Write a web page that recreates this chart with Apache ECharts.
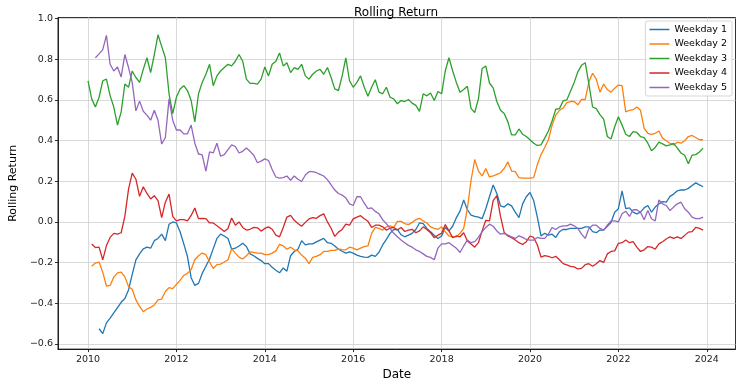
<!DOCTYPE html>
<html>
<head>
<meta charset="utf-8">
<script src="https://cdn.jsdelivr.net/npm/echarts@6/dist/echarts.min.js"></script>
<style>
  html, body { margin: 0; padding: 0; background: #fff; }
  #chart { width: 740px; height: 386px; }
</style>
</head>
<body>
<div id="chart"></div>
<script>
// ---- Data (monthly samples) ----
const startYear = 2010;
const monthCount = 168; // Jan 2010 .. Dec 2023
const dates = [];
for (let i = 0; i < monthCount; i++) dates.push(startYear + i / 12);

const seriesNames = ['Weekday 1', 'Weekday 2', 'Weekday 3', 'Weekday 4', 'Weekday 5'];

const weekday1 = [null, null, null,
  -0.525, -0.549, -0.496, -0.473, -0.447, -0.421, -0.395,
  -0.376, -0.334, -0.258, -0.186, -0.157, -0.132, -0.124, -0.129, -0.092, -0.081,
  -0.06, -0.092, -0.011, 0.0, -0.005, -0.048, -0.108, -0.17, -0.274, -0.312,
  -0.302, -0.253, -0.218, -0.182, -0.131, -0.081, -0.06, -0.069, -0.081, -0.134,
  -0.129, -0.118, -0.105, -0.121, -0.157, -0.166, -0.179, -0.19, -0.205, -0.205,
  -0.223, -0.237, -0.25, -0.226, -0.242, -0.166, -0.145, -0.134, -0.092, -0.113,
  -0.108, -0.108, -0.098, -0.089, -0.081, -0.102, -0.105, -0.118, -0.134, -0.144,
  -0.153, -0.147, -0.153, -0.163, -0.169, -0.173, -0.174, -0.163, -0.169, -0.149,
  -0.113, -0.086, -0.056, -0.037, -0.037, -0.063, -0.073, -0.065, -0.056, -0.037,
  -0.005, -0.008, -0.032, -0.048, -0.065, -0.081, -0.069, -0.027, -0.044, -0.021,
  0.021, 0.053, 0.108, 0.06, 0.034, 0.027, 0.024, 0.016, 0.065, 0.124,
  0.182, 0.14, 0.079, 0.073, 0.089, 0.079, 0.048, 0.021, 0.089, 0.124,
  0.145, 0.105, 0.024, -0.069, -0.056, -0.065, -0.06, -0.076, -0.048, -0.036,
  -0.037, -0.032, -0.032, -0.032, -0.032, -0.024, -0.024, -0.048, -0.053, -0.04,
  -0.04, -0.021, -0.003, 0.048, 0.065, 0.153, 0.065, 0.069, 0.048, 0.04,
  0.048, 0.069, 0.081, 0.048, 0.073, 0.089, 0.1, 0.097, 0.126, 0.137,
  0.153, 0.158, 0.157, 0.165, 0.179, 0.192, 0.182, 0.173];

const weekday2 = [null,
  -0.218, -0.202, -0.197, -0.247, -0.315, -0.312, -0.271, -0.25, -0.247,
  -0.27, -0.318, -0.331, -0.383, -0.415, -0.441, -0.428, -0.42, -0.408, -0.383,
  -0.379, -0.342, -0.323, -0.328, -0.307, -0.287, -0.263, -0.253, -0.234, -0.186,
  -0.166, -0.153, -0.161, -0.197, -0.229, -0.21, -0.207, -0.197, -0.186, -0.132,
  -0.153, -0.173, -0.182, -0.166, -0.147, -0.15, -0.153, -0.153, -0.161, -0.161,
  -0.153, -0.142, -0.11, -0.118, -0.134, -0.124, -0.137, -0.142, -0.163, -0.178,
  -0.205, -0.174, -0.169, -0.161, -0.145, -0.145, -0.14, -0.14, -0.132, -0.136,
  -0.137, -0.124, -0.129, -0.137, -0.129, -0.121, -0.118, -0.056, -0.027, -0.032,
  -0.04, -0.024, -0.019, -0.027, 0.003, 0.003, -0.008, -0.013, -0.002, 0.011,
  0.018, 0.005, -0.005, -0.024, -0.032, -0.037, -0.024, -0.048, -0.069, -0.073,
  -0.073, -0.056, -0.032, 0.065, 0.205, 0.307, 0.25, 0.226, 0.263, 0.221,
  0.226, 0.234, 0.242, 0.263, 0.295, 0.25, 0.247, 0.218, 0.215, 0.215,
  0.215, 0.218, 0.282, 0.331, 0.366, 0.404, 0.476, 0.525, 0.549, 0.56,
  0.586, 0.592, 0.592, 0.576, 0.602, 0.602, 0.689, 0.731, 0.702, 0.638,
  0.678, 0.651, 0.638, 0.657, 0.673, 0.67, 0.541, 0.549, 0.552, 0.565,
  0.549, 0.46, 0.436, 0.431, 0.436, 0.447, 0.412, 0.399, 0.387, 0.379,
  0.392, 0.387, 0.399, 0.42, 0.425, 0.415, 0.404, 0.404];

const weekday3 = [
  0.694, 0.605, 0.565, 0.613, 0.694, 0.702, 0.621, 0.565, 0.476, 0.541,
  0.678, 0.662, 0.742, 0.71, 0.686, 0.75, 0.807, 0.734, 0.823, 0.92,
  0.863, 0.807, 0.63, 0.533, 0.613, 0.654, 0.67, 0.646, 0.597, 0.492,
  0.63, 0.686, 0.726, 0.775, 0.67, 0.718, 0.742, 0.759, 0.775, 0.767,
  0.79, 0.823, 0.79, 0.702, 0.681, 0.681, 0.678, 0.702, 0.762, 0.718,
  0.775, 0.79, 0.831, 0.767, 0.783, 0.734, 0.759, 0.75, 0.775, 0.718,
  0.702, 0.726, 0.742, 0.75, 0.726, 0.759, 0.71, 0.654, 0.646, 0.718,
  0.807, 0.694, 0.662, 0.686, 0.718, 0.662, 0.618, 0.662, 0.699, 0.638,
  0.63, 0.662, 0.613, 0.605, 0.581, 0.597, 0.592, 0.602, 0.584, 0.573,
  0.544, 0.63, 0.62, 0.634, 0.597, 0.641, 0.63, 0.743, 0.807, 0.743,
  0.686, 0.638, 0.651, 0.667, 0.557, 0.538, 0.605, 0.754, 0.767, 0.683,
  0.659, 0.592, 0.549, 0.533, 0.492, 0.428, 0.428, 0.457, 0.431, 0.42,
  0.404, 0.387, 0.376, 0.379, 0.412, 0.447, 0.496, 0.554, 0.557, 0.595,
  0.6, 0.642, 0.686, 0.738, 0.77, 0.783, 0.678, 0.565, 0.557, 0.528,
  0.505, 0.42, 0.408, 0.468, 0.517, 0.476, 0.431, 0.42, 0.444, 0.44,
  0.42, 0.415, 0.387, 0.35, 0.366, 0.392, 0.384, 0.374, 0.379, 0.386,
  0.363, 0.339, 0.328, 0.286, 0.328, 0.331, 0.344, 0.363];

const weekday4 = [null,
  -0.108, -0.126, -0.124, -0.186, -0.116, -0.076, -0.056, -0.06, -0.053,
  0.027, 0.161, 0.24, 0.21, 0.126, 0.173, 0.14, 0.113, 0.129, 0.105,
  0.021, 0.097, 0.137, 0.027, 0.005, 0.011, 0.011, 0.005, 0.032, 0.069,
  0.016, 0.018, 0.016, -0.005, -0.005, -0.019, -0.032, -0.047, -0.032, 0.019,
  -0.016, 0.0, -0.027, -0.04, -0.036, -0.027, -0.029, -0.045, -0.032, -0.024,
  -0.036, -0.065, -0.073, -0.027, 0.024, 0.032, 0.008, -0.008, -0.021, -0.002,
  0.015, 0.021, 0.018, 0.031, 0.04, 0.0, -0.031, -0.071, -0.05, -0.037,
  -0.011, -0.016, 0.015, 0.024, 0.031, 0.016, 0.003, -0.027, -0.016, -0.016,
  -0.024, -0.04, -0.031, -0.027, -0.04, -0.027, -0.047, -0.04, -0.036, -0.053,
  -0.044, -0.024, -0.037, -0.053, -0.077, -0.065, -0.056, -0.013, -0.044, -0.077,
  -0.069, -0.073, -0.053, -0.094, -0.108, -0.124, -0.102, -0.044, 0.008, 0.005,
  0.105, 0.129, 0.027, -0.052, -0.069, -0.077, -0.089, -0.102, -0.111, -0.097,
  -0.069, -0.076, -0.113, -0.173, -0.166, -0.169, -0.176, -0.169, -0.186, -0.205,
  -0.211, -0.218, -0.221, -0.231, -0.228, -0.21, -0.205, -0.218, -0.205, -0.19,
  -0.199, -0.157, -0.145, -0.142, -0.105, -0.102, -0.089, -0.102, -0.097, -0.124,
  -0.145, -0.137, -0.121, -0.124, -0.134, -0.108, -0.097, -0.084, -0.073, -0.081,
  -0.073, -0.081, -0.066, -0.05, -0.048, -0.027, -0.032, -0.04];

const weekday5 = [null, null,
  0.807, 0.826, 0.847, 0.917, 0.775, 0.742, 0.762, 0.713,
  0.823, 0.759, 0.686, 0.546, 0.594, 0.544, 0.525, 0.5, 0.549, 0.5,
  0.383, 0.415, 0.605, 0.5, 0.452, 0.452, 0.433, 0.433, 0.476, 0.387,
  0.334, 0.33, 0.25, 0.344, 0.339, 0.387, 0.323, 0.331, 0.355, 0.379,
  0.371, 0.339, 0.347, 0.363, 0.347, 0.328, 0.291, 0.299, 0.31, 0.302,
  0.258, 0.221, 0.215, 0.218, 0.226, 0.205, 0.226, 0.21, 0.199, 0.231,
  0.247, 0.247, 0.242, 0.234, 0.226, 0.208, 0.182, 0.157, 0.14, 0.132,
  0.118, 0.089, 0.081, 0.124, 0.124, 0.092, 0.065, 0.069, 0.052, 0.04,
  0.011, -0.008, -0.032, -0.056, -0.073, -0.089, -0.102, -0.115, -0.124, -0.137,
  -0.145, -0.157, -0.169, -0.174, -0.186, -0.129, -0.108, -0.108, -0.102, -0.116,
  -0.129, -0.15, -0.118, -0.089, -0.102, -0.097, -0.076, -0.048, -0.027, -0.011,
  -0.021, -0.044, -0.06, -0.056, -0.065, -0.073, -0.081, -0.068, -0.076, -0.086,
  -0.089, -0.089, -0.076, -0.081, -0.081, -0.06, -0.027, -0.037, -0.024, -0.019,
  -0.019, -0.011, -0.019, -0.032, -0.06, -0.081, -0.032, -0.016, -0.016, -0.032,
  -0.04, -0.016, 0.005, 0.005, 0.0, 0.04, 0.053, 0.027, 0.06, 0.06,
  0.048, 0.011, 0.056, 0.016, 0.005, 0.108, 0.089, 0.081, 0.056, 0.073,
  0.089, 0.097, 0.065, 0.048, 0.024, 0.016, 0.016, 0.024];

const xTicks = [2010, 2012, 2014, 2016, 2018, 2020, 2022, 2024];
const yTicks = [-0.6, -0.4, -0.2, 0.0, 0.2, 0.4, 0.6, 0.8, 1.0];
const colors = ['#1f77b4', '#ff7f0e', '#2ca02c', '#d62728', '#9467bd'];

// ---- Chart ----
const allSeries = [weekday1, weekday2, weekday3, weekday4, weekday5];
const FONT = 'DejaVu Sans';
const chart = echarts.init(document.getElementById('chart'), null, { renderer: 'canvas' });

chart.setOption({
  animation: false,
  backgroundColor: '#ffffff',
  color: colors,
  textStyle: { fontFamily: FONT },
  title: {
    text: 'Rolling Return',
    left: 391, top: 2, textAlign: 'center',
    textStyle: { fontFamily: FONT, fontSize: 12, fontWeight: 'normal', color: '#000' }
  },
  grid: {
    left: 46, right: 4.5, top: 17.5, bottom: 32,
    show: true, borderColor: '#000', borderWidth: 0.8, backgroundColor: 'transparent'
  },
  legend: {
    data: seriesNames,
    orient: 'vertical',
    right: 8, top: 21,
    icon: 'rect', itemWidth: 20, itemHeight: 1.5, itemGap: 3.5,
    padding: [3, 5, 3, 4],
    backgroundColor: 'rgba(255,255,255,0.8)',
    borderColor: '#cccccc', borderWidth: 0.8, borderRadius: 2,
    textStyle: { fontFamily: FONT, fontSize: 9.5, color: '#000', lineHeight: 11 }
  },
  xAxis: {
    type: 'value',
    min: 2009.32, max: 2024.65,
    name: 'Date', nameLocation: 'middle', nameGap: 15,
    nameTextStyle: { fontFamily: FONT, fontSize: 12, color: '#000' },
    axisLine: { show: true, onZero: false, lineStyle: { color: '#000', width: 0.8 } },
    axisTick: { show: true, inside: false, length: 3, customValues: xTicks, lineStyle: { color: '#000', width: 0.8 } },
    axisLabel: { customValues: xTicks, margin: 5, fontSize: 9.5, color: '#222', fontFamily: FONT,
      formatter: v => String(Math.round(v)) },
    splitLine: { show: true, lineStyle: { color: '#cfcfcf', width: 0.8 } }
  },
  yAxis: {
    type: 'value',
    min: -0.625, max: 1.005,
    name: 'Rolling Return', nameLocation: 'middle', nameGap: 29,
    nameTextStyle: { fontFamily: FONT, fontSize: 11, color: '#000' },
    axisLine: { show: true, onZero: false, lineStyle: { color: '#000', width: 0.8 } },
    axisTick: { show: true, inside: false, length: 3, customValues: yTicks, lineStyle: { color: '#000', width: 0.8 } },
    axisLabel: { customValues: yTicks, margin: 5, fontSize: 9.5, color: '#222', fontFamily: FONT,
      formatter: v => (v < -1e-9 ? '\u2212' : '') + Math.abs(v).toFixed(1) },
    splitLine: { show: true, lineStyle: { color: '#cfcfcf', width: 0.8 } }
  },
  series: allSeries.map((vals, k) => ({
    name: seriesNames[k],
    type: 'line',
    data: dates.map((d, i) => [d, vals[i]]),
    showSymbol: false,
    symbol: 'none',
    connectNulls: false,
    lineStyle: { width: 1.3, color: colors[k] },
    itemStyle: { color: colors[k] },
    z: 2 + k
  }))
});
</script>
</body>
</html>
